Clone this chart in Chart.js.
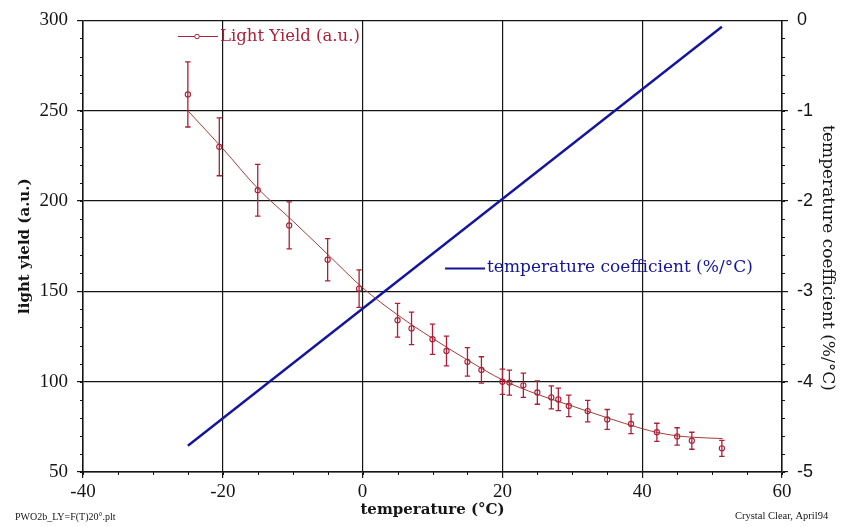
<!DOCTYPE html>
<html>
<head>
<meta charset="utf-8">
<script src="https://cdn.jsdelivr.net/npm/chart.js@4.4.1/dist/chart.umd.min.js"></script>
<style>
  html, body { margin: 0; padding: 0; background: #fff; }
  #wrap { width: 856px; height: 527px; position: relative; }
</style>
</head>
<body>
<div id="wrap"><canvas id="lyChart"></canvas></div>
<script>
// measured light yield vs temperature
const tempPoints = [-25, -20.5, -15, -10.5, -5, -0.5, 5, 7, 10, 12, 15, 17, 20, 21, 23, 25, 27, 28, 29.5, 32.2, 35, 38.4, 42.1, 45, 47.1, 51.4];
const lightYield = [259, 230, 206, 186.5, 167.5, 151.5, 134, 129.5, 123.5, 117, 111, 106.5, 100, 99.5, 98, 94, 91.3, 90.2, 86.6, 83.7, 79.1, 76.6, 72, 69.7, 67.3, 63.1];
const lightYieldErr = [18, 16, 14.3, 13, 11.7, 10.4, 9.3, 9, 8.4, 8.2, 7.9, 7.3, 7, 6.9, 6.7, 6.5, 6.4, 6.2, 6, 5.9, 5.5, 5.4, 5, 4.8, 4.7, 4.4];

// smoothed curve through the points
const fitTemp = [-25, -20, -15, -10, -5, 0, 5, 10, 15, 20, 25, 30, 35, 40, 42, 45, 47, 51.5];
const fitYield = [250, 229, 207, 189, 170.5, 152, 137, 124, 112, 101, 93, 86.5, 80, 74, 72, 70, 69.3, 68.5];

// temperature coefficient (%/°C)
const coefTemp = [-25, 51.4];
const coefValue = [-4.71, -0.07];

// axis ticks
const xTickValues = [-40, -20, 0, 20, 40, 60];
const yTickValues = [50, 100, 150, 200, 250, 300];
const y2TickValues = [-5, -4, -3, -2, -1, 0];

const RED = '#ad1f38';
const FIT = '#a23e3a';
const BLUE = '#15159a';
const INK = '#151515';

const serif = 'Liberation Serif';
const wideSerif = 'DejaVu Serif';

function setTicks(values) {
    return function(scale) {
        scale.ticks = values.map(v => ({ value: v }));
    };
}

// vertical error bars on the light yield points
const errorBars = {
    id: 'errorBars',
    afterDatasetsDraw(chart) {
        const { ctx, scales: { x, y } } = chart;
        ctx.save();
        ctx.strokeStyle = RED;
        ctx.lineWidth = 1.3;
        ctx.beginPath();
        tempPoints.forEach((t, i) => {
            const px = x.getPixelForValue(t);
            const top = y.getPixelForValue(lightYield[i] + lightYieldErr[i]);
            const bot = y.getPixelForValue(lightYield[i] - lightYieldErr[i]);
            ctx.moveTo(px, top); ctx.lineTo(px, bot);
            ctx.moveTo(px - 2.7, top); ctx.lineTo(px + 2.7, top);
            ctx.moveTo(px - 2.7, bot); ctx.lineTo(px + 2.7, bot);
        });
        ctx.stroke();
        ctx.restore();
    }
};

// small outward ticks between the labelled ones
const minorTicks = {
    id: 'minorTicks',
    afterDraw(chart) {
        const { ctx, chartArea: a, scales } = chart;
        ctx.save();
        ctx.strokeStyle = INK;
        ctx.lineWidth = 1;
        ctx.beginPath();
        for (let v = -40; v <= 60; v += 5) {
            const p = Math.round(scales.x.getPixelForValue(v)) + 0.5;
            ctx.moveTo(p, a.bottom); ctx.lineTo(p, a.bottom + 3);
        }
        for (let v = 50; v <= 300; v += 10) {
            const p = Math.round(scales.y.getPixelForValue(v)) + 0.5;
            ctx.moveTo(a.left - 3, p); ctx.lineTo(a.left, p);
        }
        for (let k = 0; k <= 25; k++) {
            const p = Math.round(scales.y2.getPixelForValue(-5 + k * 0.2)) + 0.5;
            ctx.moveTo(a.right, p); ctx.lineTo(a.right + 3, p);
        }
        ctx.stroke();
        ctx.restore();
    }
};

// legend entries placed inside the plot, right axis title and file notes
const notes = {
    id: 'notes',
    afterDraw(chart) {
        const { ctx } = chart;
        ctx.save();
        ctx.textBaseline = 'middle';

        ctx.strokeStyle = RED;
        ctx.lineWidth = 1;
        ctx.beginPath();
        ctx.moveTo(178, 36.5); ctx.lineTo(218, 36.5);
        ctx.stroke();
        ctx.beginPath();
        ctx.arc(197, 36.5, 2.3, 0, Math.PI * 2);
        ctx.fillStyle = '#fff';
        ctx.fill();
        ctx.stroke();
        ctx.fillStyle = RED;
        ctx.font = '16.5px "' + wideSerif + '"';
        ctx.fillText('Light Yield (a.u.)', 220, 37);

        ctx.strokeStyle = BLUE;
        ctx.lineWidth = 2;
        ctx.beginPath();
        ctx.moveTo(445, 268.5); ctx.lineTo(485, 268.5);
        ctx.stroke();
        ctx.fillStyle = BLUE;
        ctx.font = '17px "' + wideSerif + '"';
        ctx.fillText('temperature coefficient (%/°C)', 487, 268);

        // right axis title, read top to bottom
        ctx.save();
        ctx.translate(827, 258);
        ctx.rotate(Math.PI / 2);
        ctx.textAlign = 'center';
        ctx.fillStyle = INK;
        ctx.font = '17px "' + wideSerif + '"';
        ctx.fillText('temperature coefficient (%/°C)', 0, 0);
        ctx.restore();

        ctx.fillStyle = INK;
        ctx.font = '10px "' + serif + '"';
        ctx.fillText('PWO2b_LY=F(T)20°.plt', 15, 517);
        ctx.font = '10.5px "' + serif + '"';
        ctx.fillText('Crystal Clear, April94', 735, 516);
        ctx.restore();
    }
};

new Chart(document.getElementById('lyChart'), {
    type: 'line',
    data: {
        datasets: [
            {
                label: 'Light Yield (a.u.)',
                data: tempPoints.map((t, i) => ({ x: t, y: lightYield[i] })),
                yAxisID: 'y',
                showLine: false,
                borderColor: RED,
                backgroundColor: 'rgba(255,255,255,0)',
                pointRadius: 2.6,
                pointBorderWidth: 1.1,
                order: 1
            },
            {
                label: 'fit',
                data: fitTemp.map((t, i) => ({ x: t, y: fitYield[i] })),
                yAxisID: 'y',
                borderColor: FIT,
                borderWidth: 1,
                pointRadius: 0,
                cubicInterpolationMode: 'monotone',
                order: 2
            },
            {
                label: 'temperature coefficient (%/°C)',
                data: coefTemp.map((t, i) => ({ x: t, y: coefValue[i] })),
                yAxisID: 'y2',
                borderColor: BLUE,
                borderWidth: 2.4,
                pointRadius: 0,
                order: 3
            }
        ]
    },
    options: {
        responsive: true,
        maintainAspectRatio: false,
        animation: false,
        layout: { padding: { top: 14, left: 0, right: 0, bottom: 0 } },
        plugins: {
            legend: { display: false },
            tooltip: { enabled: false }
        },
        scales: {
            x: {
                type: 'linear',
                min: -40,
                max: 60,
                afterBuildTicks: setTicks(xTickValues),
                afterFit: s => { s.height = 55; },
                grid: { color: INK, lineWidth: 1.2, tickLength: 6, tickColor: INK },
                border: { display: true, color: INK, width: 1.5 },
                ticks: { color: INK, padding: 3, font: { family: serif, size: 19 } },
                title: {
                    display: true,
                    text: 'temperature (°C)',
                    color: INK,
                    padding: { top: 0, bottom: 8 },
                    font: { family: wideSerif, size: 15, weight: 'bold' }
                }
            },
            y: {
                type: 'linear',
                position: 'left',
                min: 50,
                max: 300,
                afterBuildTicks: setTicks(yTickValues),
                afterFit: s => { s.width = 83; },
                grid: { color: INK, lineWidth: 1.2, tickLength: 6, tickColor: INK },
                border: { display: true, color: INK, width: 1.5 },
                ticks: { color: INK, padding: 9, font: { family: serif, size: 19 } },
                title: {
                    display: true,
                    text: 'light yield (a.u.)',
                    color: INK,
                    padding: { top: 16, bottom: 0 },
                    font: { family: wideSerif, size: 15, weight: 'bold' }
                }
            },
            y2: {
                type: 'linear',
                position: 'right',
                min: -5,
                max: 0,
                afterBuildTicks: setTicks(y2TickValues),
                afterFit: s => { s.width = 74; },
                grid: { drawOnChartArea: false, color: INK, lineWidth: 1.2, tickLength: 6, tickColor: INK },
                border: { display: true, color: INK, width: 1.5 },
                ticks: { color: INK, padding: 9, font: { family: 'Liberation Sans', size: 18 } }
            }
        }
    },
    plugins: [errorBars, minorTicks, notes]
});
</script>
</body>
</html>
